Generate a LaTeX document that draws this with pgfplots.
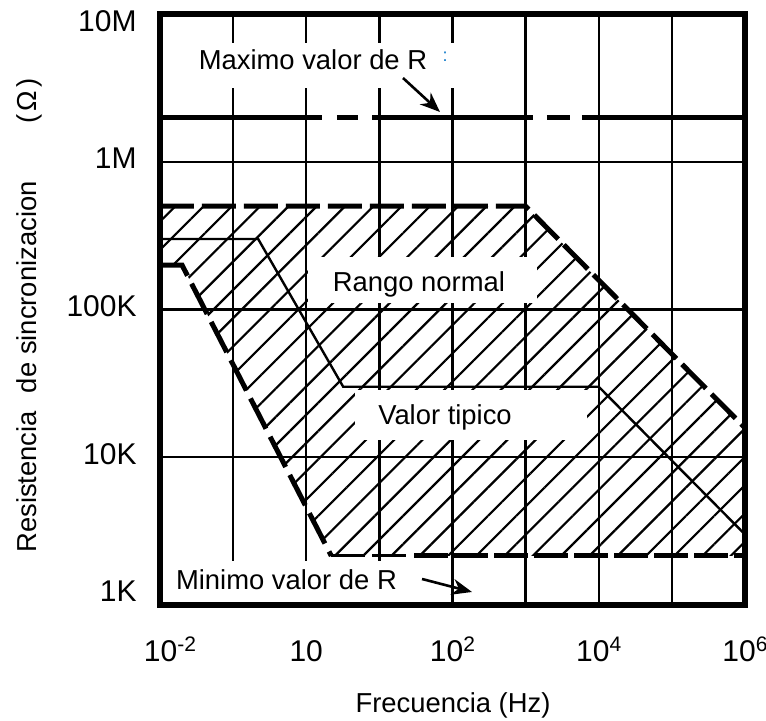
\documentclass[border=0pt]{standalone}
\usepackage{pgfplots}
\pgfplotsset{compat=1.18}
\usepackage{fontspec}
\setmainfont{Liberation Sans}
\usetikzlibrary{patterns.meta,arrows.meta}
\newcommand{\tfont}{\fontsize{15pt}{18pt}\selectfont}
\newcommand{\afont}{\fontsize{13.7pt}{16pt}\selectfont}
\newcommand{\sups}[1]{\raisebox{5pt}{\fontsize{10.5pt}{12pt}\selectfont #1}}
\begin{document}
\begin{tikzpicture}
\useasboundingbox (-80pt,-58pt) rectangle (303pt,302.5pt);
\begin{axis}[
  at={(0pt,0pt)}, anchor=south west,
  scale only axis, width=292.5pt, height=295.5pt,
  xmode=log, ymode=log,
  xmin=1e-2, xmax=1e6, ymin=1e3, ymax=1e7,
  xtick={1e-2,1e-1,1,10,100,1e3,1e4,1e5,1e6},
  xticklabels={\hspace*{10pt}10\sups{-2},,10,,10\sups{2},,10\sups{4},,10\sups{6}},
  ytick={1e3,1e4,1e5,1e6,1e7},
  yticklabels={\raisebox{5pt}{1K},10K,100K,1M,\raisebox{-5.5pt}{10M}},
  tick style={draw=none},
  major tick length=0pt, minor tick length=0pt,
  grid=major,
  major grid style={black, line width=1.2pt},
  axis line style={line width=3pt},
  ticklabel style={font=\tfont},
  xticklabel style={anchor=base, inner sep=0pt, yshift=-28.5pt},
  yticklabel style={anchor=base east, inner sep=0pt, xshift=-11.5pt, yshift=-3.5pt},
]
% hatched normal range
\addplot[draw=none, pattern={Lines[angle=45, distance=10pt, line width=1.1pt]}]
  coordinates {(0.01,5e5) (1e3,5e5) (1e6,1.58e4) (1e6,2.15e3) (2.2,2.15e3) (0.02,2e5) (0.01,2e5)} -- cycle;
% typical value
\addplot[black, line width=1.2pt] coordinates {(0.01,3e5) (0.22,3e5) (3.2,3e4) (1e4,3e4) (1e6,3e3)};
% upper boundary
\addplot[black, line width=2.5pt, dash pattern=on 17pt off 4pt] coordinates {(0.01,5e5) (1e3,5e5) (1e6,1.58e4)};
% lower boundary
\addplot[black, line width=2.5pt, dash pattern=on 17pt off 4.5pt] coordinates {(0.01,2e5) (0.02,2e5) (2.2,2.15e3)};
\addplot[black, line width=1.6pt, dash pattern=on 17pt off 3.5pt] coordinates {(2.2,2.15e3) (28,2.15e3)};
\addplot[black, line width=2.5pt, dash pattern=on 17pt off 3pt] coordinates {(30,2.15e3) (1e6,2.15e3)};
% maximum R line
\addplot[black, line width=2.5pt] coordinates {(0.01,2e6) (1.64,2e6)};
\addplot[black, line width=2.5pt] coordinates {(2.63,2e6) (5.10,2e6)};
\addplot[black, line width=2.5pt] coordinates {(7.93,2e6) (1261,2e6)};
\addplot[black, line width=2.5pt] coordinates {(1960,2e6) (4045,2e6)};
\addplot[black, line width=2.5pt] coordinates {(5900,2e6) (1e6,2e6)};
% white boxes
\fill[white] (rel axis cs:0.0086,0.8748) rectangle (rel axis cs:0.5043,0.9509);
\fill[white] (rel axis cs:0.2530,0.5110) rectangle (rel axis cs:0.6444,0.5888);
\fill[white] (rel axis cs:0.3333,0.2792) rectangle (rel axis cs:0.7299,0.3638);
\fill[white] (rel axis cs:0.0017,0.0017) rectangle (rel axis cs:0.4359,0.0745);
% texts
\node[anchor=base, inner sep=0pt, font=\afont] at (rel axis cs:0.2615,0.9069) {Maximo valor de R};
\node[anchor=base, inner sep=0pt, font=\afont] at (rel axis cs:0.4427,0.5296) {Rango normal};
\node[anchor=base, inner sep=0pt, font=\afont] at (rel axis cs:0.4872,0.3046) {Valor tipico};
\node[anchor=base, inner sep=0pt, font=\afont] at (rel axis cs:0.2162,0.0254) {Minimo valor de R};
\node[inner sep=0pt, text=cyan!60!blue, font=\fontsize{9pt}{9pt}\selectfont] at (rel axis cs:0.4872,0.9272) {:};
% arrows
\draw[black, line width=1.3pt, -{Stealth[length=10pt,width=8pt]}] (rel axis cs:0.4154,0.8917) -- (rel axis cs:0.4786,0.8342);
\draw[black, line width=1.3pt, -{Stealth[length=10pt,width=8pt]}] (rel axis cs:0.4479,0.0440) -- (rel axis cs:0.5333,0.0220);
% frame
\draw[black, line width=3pt] (rel axis cs:0,0) rectangle (rel axis cs:1,1);
\end{axis}
\node[rotate=90, anchor=base west, inner sep=0pt, font=\afont] at (-61.5pt,26pt) {Resistencia\hspace{9pt}de sincronizacion};
\node[rotate=90, anchor=base, inner sep=0pt, font=\afont] at (-61.5pt,252pt) {(\kern1.5pt Ω\kern1.5pt)};
\node[anchor=base, inner sep=0pt, font=\afont] at (146.5pt,-54pt) {Frecuencia (Hz)};
\end{tikzpicture}
\end{document}
